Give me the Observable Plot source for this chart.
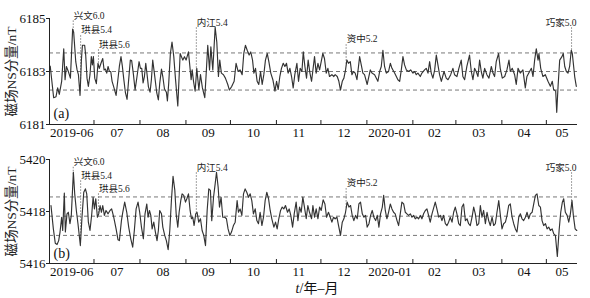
<!DOCTYPE html>
<html><head><meta charset="utf-8">
<script src="https://cdn.jsdelivr.net/npm/d3@7"></script>
<script src="https://cdn.jsdelivr.net/npm/@observablehq/plot@0.6"></script>
<style>
body{margin:0;background:#fff;width:590px;height:298px;overflow:hidden;position:relative;font-family:"Liberation Serif","Noto Sans CJK SC",serif}
#chart svg{display:block}
#xl{position:absolute;left:0;width:634px;top:281px;text-align:center;font-size:14px;color:#111;line-height:16px}
</style></head><body>
<div id="chart"></div>
<div id="xl"><i>t</i>/年–月</div>
<script>
// ---------- data ----------
// day offsets from 2019-06-01 and NS component values (nT)
const dayA = [0.5,2.8,4.4,5.5,6.6,8.2,9.6,10.5,11.4,12.7,14.1,15.6,16.3,17.7,18.6,19.5,20.6,21.5,22.2,23.7,24.4,25.3,26.2,27.3,28.2,28.9,29.6,30.5,31.6,32.7,33.6,34.7,35.9,36.8,37.7,38.6,39.5,40.4,41.3,42.2,43.3,44.9,46.0,47.1,48.2,49.1,50.0,51.2,52.3,53.2,54.5,55.4,56.6,57.7,59.0,60.4,61.3,62.2,63.1,64.0,64.9,65.8,66.7,67.8,68.7,69.6,70.7,72.3,73.4,74.3,75.5,76.4,77.5,78.8,79.5,80.4,81.5,82.6,83.8,84.9,
86.5,88.1,89.9,91.0,92.1,93.7,95.5,96.2,97.1,98.2,99.3,100.7,101.8,103.1,104.7,105.6,106.7,107.9,108.8,110.1,111.7,112.8,113.9,114.8,115.9,117.3,118.6,120.2,121.3,122.9,124.5,125.8,127.2,128.5,129.9,131.0,132.1,133.3,134.6,135.7,136.9,137.8,138.9,140.0,141.1,142.3,143.4,144.5,145.6,146.8,147.9,149.2,150.6,152.0,153.1,154.2,155.3,156.4,157.6,158.7,159.8,160.9,162.1,163.2,164.3,165.4,166.8,167.9,169.0,170.2,171.1,172.2,173.3,174.4,175.6,176.7,
178.7,179.8,181.0,182.1,184.3,185.4,186.6,187.7,188.8,190.4,191.7,192.6,194.0,195.1,196.2,197.4,198.5,199.6,200.5,201.6,202.8,203.9,205.0,206.1,207.3,209.1,210.2,211.3,212.4,214.2,215.1,216.3,217.4,219.2,221.4,222.6,223.7,224.8,225.9,227.1,228.6,229.8,230.9,232.7,234.9,236.1,237.2,238.3,239.4,240.6,242.1,243.5,245.1,246.2,247.3,248.4,250.0,251.1,252.9,254.0,255.2,256.3,257.4,258.5,259.7,260.8,261.9,263.0,264.2,266.0,267.5,268.7,270.5,
272.0,273.1,274.7,276.0,277.6,278.7,279.9,281.4,283.2,284.4,285.5,286.6,287.7,288.9,290.0,291.1,292.2,293.4,294.9,296.3,297.9,299.0,300.1,301.2,302.8,303.9,305.3,306.9,308.4,309.8,310.7,312.0,313.6,314.7,315.9,317.4,319.2,320.8,321.9,323.7,324.9,326.0,327.1,328.2,329.4,330.0,331.2,332.7,334.3,336.1,337.7,339.0,339.9,341.3,342.0,342.9,344.0,345.5,346.4,347.4,348.5,349.6,350.7,351.8,352.5,354.1,355.2];
const nsA = [6183.20,6182.01,6182.05,6182.38,6182.14,6182.63,6183.86,6182.69,6183.19,6183.00,6182.75,6184.60,6184.48,6183.37,6183.06,6182.88,6182.10,6183.43,6183.99,6183.99,6183.62,6182.75,6182.44,6182.88,6183.56,6183.25,6183.56,6182.75,6182.54,6183.31,6183.12,6183.31,6183.49,6183.06,6183.09,6182.94,6183.19,6183.00,6183.00,6182.63,6182.42,6182.10,6182.63,6183.19,6183.56,6183.21,6182.75,6182.20,6181.95,6182.57,6183.43,6183.41,6182.88,6182.30,6182.81,6183.37,6183.12,6183.12,6182.57,6182.81,6183.31,6182.88,6182.42,6182.22,6182.69,6183.43,6182.94,6182.20,6181.93,6182.54,6183.09,6182.81,6182.35,6182.22,6181.89,6182.57,6183.68,6184.11,6183.56,6182.75,
6181.70,6183.68,6183.43,6183.56,6183.43,6183.74,6182.69,6183.06,6182.63,6182.26,6183.12,6182.32,6182.88,6182.38,6182.01,6182.88,6183.99,6183.06,6183.93,6183.06,6184.67,6184.11,6182.81,6183.43,6182.94,6182.88,6182.75,6182.51,6182.30,6182.44,6182.63,6183.31,6183.00,6183.06,6182.88,6183.68,6183.99,6183.80,6183.62,6183.74,6183.43,6182.94,6183.12,6182.63,6182.51,6183.00,6182.51,6182.88,6183.43,6183.68,6183.37,6182.94,6182.69,6182.26,6182.63,6182.32,6182.81,6183.12,6183.31,6183.19,6183.31,6182.94,6183.12,6182.81,6182.38,6182.88,6183.31,6182.63,6183.12,6183.00,6183.74,6183.19,6182.75,6183.43,6182.94,6182.63,
6183.56,6182.94,6183.31,6183.06,6183.68,6183.49,6182.94,6183.12,6182.81,6182.88,6182.81,6182.88,6182.81,6182.63,6182.30,6182.63,6182.75,6183.06,6183.43,6183.31,6183.37,6182.88,6183.00,6182.94,6182.69,6183.56,6183.25,6182.94,6182.88,6182.51,6182.75,6183.06,6182.94,6182.88,6182.63,6183.00,6183.19,6183.80,6183.19,6182.94,6183.00,6183.31,6183.12,6182.94,6182.69,6182.63,6183.06,6183.56,6183.25,6183.06,6183.00,6183.06,6182.94,6183.00,6182.88,6182.94,6182.81,6182.94,6183.06,6183.12,6182.94,6183.37,6182.94,6182.75,6183.06,6183.62,6183.25,6182.88,6182.63,6183.00,6182.75,6182.69,6182.88,
6183.12,6182.88,6182.81,6183.12,6183.43,6182.81,6182.69,6183.19,6183.62,6183.00,6182.69,6183.12,6183.00,6182.81,6183.43,6183.00,6182.75,6183.12,6182.88,6182.75,6183.19,6182.94,6182.81,6183.37,6183.68,6183.12,6182.75,6182.81,6183.06,6183.43,6183.00,6183.12,6182.88,6182.51,6183.12,6182.94,6183.06,6182.38,6182.81,6183.00,6183.12,6182.81,6183.43,6183.86,6183.43,6183.68,6183.12,6182.81,6182.88,6182.63,6182.44,6182.63,6182.32,6182.26,6181.46,6182.44,6183.43,6183.56,6183.68,6183.19,6183.00,6182.94,6183.19,6183.80,6183.68,6182.81,6182.44];

const dayB = [1.0,2.6,3.9,5.1,6.2,7.1,8.2,8.9,10.0,10.7,11.8,12.7,13.8,14.7,16.1,17.0,18.1,19.2,20.8,21.9,23.1,24.2,25.1,26.2,27.3,28.5,29.4,30.3,31.2,32.3,33.2,34.1,35.0,35.9,37.0,38.1,39.5,40.8,41.9,43.3,44.9,46.2,47.1,48.5,49.4,50.7,52.1,53.4,54.8,56.1,57.2,58.4,59.7,60.8,62.0,63.3,64.4,65.6,66.5,67.4,68.3,69.2,70.3,71.4,72.5,73.4,74.3,75.5,76.4,77.7,78.8,80.0,81.1,82.2,83.3,84.5,85.4,86.5,87.4,88.5,89.4,90.5,91.7,92.6,93.7,94.8,95.7,96.6,97.5,98.6,99.5,100.6,101.8,102.9,104.0,105.2,106.3,107.4,108.5,109.4,110.6,111.7,112.6,113.7,114.6,115.7,116.8,118.2,119.3,120.4,121.6,122.7,124.0,125.2,126.5,127.4,128.5,129.7,130.8,131.9,133.0,134.2,135.3,136.4,137.5,138.7,139.8,140.9,142.0,143.2,144.3,145.4,146.5,147.7,148.8,149.9,151.3,152.4,153.5,154.6,155.8,156.9,158.0,159.1,160.5,161.6,162.7,163.9,165.0,166.3,167.5,168.6,169.7,170.8,171.9,173.1,174.2,175.3,176.7,
177.6,178.7,179.8,181.0,182.1,183.2,184.5,185.7,186.8,188.1,189.3,190.4,191.5,192.6,193.8,194.9,196.2,197.4,198.5,199.6,200.7,201.9,203.0,204.1,205.2,206.4,207.5,208.6,209.7,210.9,212.0,213.1,214.2,215.4,216.5,217.6,218.7,219.9,221.0,222.1,223.2,224.4,225.3,226.4,227.5,228.6,229.8,230.9,232.0,233.1,234.3,235.4,236.5,237.6,238.8,239.9,241.0,242.1,243.3,244.4,245.5,246.6,247.8,248.9,250.0,251.1,252.2,253.4,254.5,255.6,256.7,257.9,260.1,261.2,262.4,263.5,264.6,265.7,266.9,268.0,269.1,270.2,271.4,272.5,273.6,274.7,275.9,277.0,278.1,279.2,280.4,281.5,282.6,283.7,284.9,286.0,287.1,288.2,289.4,290.5,291.6,292.7,293.9,295.0,296.1,297.2,298.4,299.5,300.6,301.7,302.9,304.0,305.1,306.2,307.4,308.5,309.6,310.7,311.9,313.0,314.1,315.2,316.4,317.5,318.6,319.7,320.9,322.0,323.1,324.2,325.4,326.5,327.6,328.7,329.9,331.0,332.1,333.2,334.4,335.5,336.6,337.7,338.9,340.0,341.1,342.4,343.6,344.7,345.8,346.7,347.8,349.0,350.1,351.2,352.3,353.2,354.4,355.5];
const nsB = [5418.23,5417.33,5416.78,5416.73,5416.88,5417.21,5417.78,5417.27,5418.71,5417.21,5417.91,5417.97,5417.53,5417.85,5419.51,5418.68,5418.04,5417.53,5416.69,5417.78,5418.74,5418.87,5418.68,5417.59,5417.27,5417.91,5418.55,5418.10,5418.49,5417.78,5417.91,5418.23,5417.97,5418.23,5417.85,5418.04,5417.91,5418.04,5418.10,5417.78,5417.33,5416.91,5416.88,5417.65,5417.97,5418.36,5417.97,5417.40,5416.95,5416.63,5417.27,5418.10,5418.36,5417.97,5417.40,5416.95,5417.91,5418.29,5417.78,5418.04,5417.85,5417.33,5417.59,5417.21,5416.88,5417.27,5418.04,5417.91,5417.40,5417.08,5416.88,5416.53,5417.27,5418.42,5419.35,5418.81,5417.91,5417.40,5417.97,5418.42,5418.68,5418.62,5418.36,5418.49,5418.68,5418.04,5417.72,5417.78,5417.46,5417.91,5417.97,5417.59,5417.72,5417.27,5417.08,5416.69,5418.04,5418.87,5418.81,5417.65,5418.55,5419.06,5419.51,5418.94,5418.17,5418.55,5417.78,5417.78,5417.72,5417.33,5417.08,5417.21,5417.46,5417.59,5418.42,5417.97,5418.10,5417.85,5418.68,5418.87,5418.74,5418.55,5418.68,5418.42,5417.91,5418.10,5417.65,5417.53,5417.97,5417.46,5417.78,5418.42,5418.74,5418.49,5418.04,5417.72,5417.40,5417.59,5417.33,5417.72,5418.04,5418.17,5418.10,5418.23,5417.97,5418.10,5417.85,5417.40,5417.91,5418.36,5417.65,5418.17,5417.97,5418.55,5418.17,5417.72,5418.23,5417.97,5417.72,
5418.23,5417.78,5418.10,5417.72,5418.17,5418.04,5418.45,5418.29,5417.78,5417.97,5417.78,5417.59,5417.78,5417.72,5417.78,5417.46,5417.08,5417.59,5417.72,5417.97,5418.36,5418.17,5418.23,5417.85,5417.65,5417.85,5417.72,5418.29,5418.36,5417.91,5417.78,5417.85,5417.40,5417.53,5417.85,5418.04,5417.78,5417.65,5417.85,5417.40,5417.91,5418.17,5418.62,5418.04,5417.72,5417.97,5418.29,5418.10,5417.97,5417.91,5417.65,5417.46,5417.91,5418.36,5418.29,5417.97,5417.91,5417.85,5417.91,5417.78,5417.85,5417.72,5417.78,5417.72,5417.85,5417.72,5417.91,5418.04,5418.10,5417.85,5417.59,5417.91,5418.36,5418.10,5417.78,5417.85,5417.65,5417.85,5417.53,5417.46,5417.59,5417.78,5417.59,5417.97,5418.17,5417.91,5417.53,5417.46,5418.17,5418.29,5417.65,5417.72,5417.53,5417.46,5417.78,5418.17,5417.91,5417.46,5417.53,5418.23,5417.78,5418.04,5417.53,5417.97,5417.65,5417.46,5417.78,5417.46,5417.53,5417.97,5418.42,5417.85,5417.33,5417.53,5417.59,5417.85,5418.23,5418.29,5417.78,5417.53,5417.33,5417.21,5417.78,5417.91,5417.72,5417.65,5417.78,5417.97,5417.72,5417.91,5417.97,5418.29,5418.62,5418.68,5418.23,5418.17,5417.65,5417.46,5417.53,5417.33,5417.40,5417.27,5417.33,5417.14,5417.08,5416.27,5417.27,5417.97,5418.36,5418.49,5417.97,5417.85,5417.59,5417.91,5418.42,5417.85,5417.33,5417.27];

// dashed reference levels (lower, mean, upper)
const dashA = [6182.3, 6183.0, 6183.7];
const dashB = [5417.08, 5417.82, 5418.56];
const yTicksA = [6181, 6183, 6185];
const yTicksB = [5416, 5418, 5420];

// earthquakes: name and day offset from 2019-06-01
const quakeNames = ["兴文6.0","珙县5.4","珙县5.6","内江5.4","资中5.2","巧家5.0"];
const quakeDays = [16, 21, 33, 99, 200, 352];
const quakeLabelA = [6185.11, 6184.55, 6184.02, 6184.85, 6184.21, 6184.85];
const quakeLabelB = [5419.90, 5419.38, 5418.88, 5419.69, 5419.08, 5419.69];

const monthLabels = ["2019-06","07","08","09","10","11","12","2020-01","02","03","04","05"];

// ---------- helpers ----------
const start = new Date(Date.UTC(2019, 5, 1));
const toDate = d => new Date(start.getTime() + d * 864e5);
const xDomain = [toDate(0), toDate(356)];
const monthStarts = d3.utcMonth.range(new Date(Date.UTC(2019, 6, 1)), new Date(Date.UTC(2020, 4, 2)));
const monthMids = d3.utcMonth.range(start, new Date(Date.UTC(2020, 5, 1))).map((m, i) => {
  const e = d3.utcMonth.offset(m, 1);
  const a = +m, b = Math.min(+e, +xDomain[1]);
  return {date: new Date((a + b) / 2), label: monthLabels[i]};
});
function interp(ds, vs, d) {
  for (let i = 1; i < ds.length; i++) {
    if (ds[i] >= d) { const t = (d - ds[i-1]) / (ds[i] - ds[i-1]); return vs[i-1] + t * (vs[i] - vs[i-1]); }
  }
  return vs[vs.length - 1];
}
const FONT = '"Liberation Serif","Noto Sans CJK SC",serif';

function panel({days, vals, yDomain, dash, yTicks, labelY, tag, h, mt, mb, tagDy}) {
  const data = days.map((d, i) => ({date: toDate(d), v: vals[i]}));
  const ev = quakeNames.map((n, i) => ({name: n, date: toDate(quakeDays[i]), ly: labelY[i], bottom: interp(days, vals, quakeDays[i])}));
  const evStart = ev.filter((d, i) => i < ev.length - 1);
  const evEnd = ev.filter((d, i) => i === ev.length - 1);
  return Plot.plot({
    width: 590, height: h, marginLeft: 49, marginRight: 13, marginTop: mt, marginBottom: mb,
    style: {fontFamily: FONT, fontSize: "13px", color: "#111", background: "#fff", overflow: "visible"},
    x: {type: "utc", domain: xDomain, axis: null},
    y: {domain: yDomain, axis: null},
    marks: [
      Plot.ruleY(dash, {stroke: "#555", strokeDasharray: "4,3", strokeWidth: 0.8}),
      Plot.ruleX(ev, {x: "date", y1: d => d.ly - 0.2, y2: "bottom", stroke: "#777", strokeDasharray: "1.5,1.5", strokeWidth: 0.9}),
      Plot.line(data, {x: "date", y: "v", stroke: "#333", strokeWidth: 1.15}),
      Plot.ruleY([yDomain[0]], {stroke: "#222", strokeWidth: 1}),
      Plot.ruleX([xDomain[0]], {stroke: "#222", strokeWidth: 1}),
      Plot.axisY({ticks: yTicks, tickSize: 3, tickPadding: 1, fontSize: 13, label: null, tickFormat: d => String(d), stroke: "#222"}),
      Plot.axisX({ticks: monthStarts, tickSize: -4, tickFormat: () => "", label: null, stroke: "#222"}),
      Plot.text(monthMids, {x: "date", text: "label", frameAnchor: "bottom", lineAnchor: "middle", dy: 8, fontSize: 13, fill: "#111"}),
      Plot.text(evStart, {x: "date", y: "ly", text: "name", textAnchor: "start", dx: 0.5, fontSize: 9.5, fill: "#222"}),
      Plot.text(evEnd, {x: "date", y: "ly", text: "name", textAnchor: "end", dx: 5, fontSize: 9.5, fill: "#222"}),
      Plot.text([tag], {frameAnchor: "bottom-left", textAnchor: "start", lineAnchor: "middle", dx: 4, dy: tagDy, fontSize: 14, fill: "#111"}),
      Plot.text(["磁场NS分量/nT"], {frameAnchor: "left", rotate: -90, lineAnchor: "middle", textAnchor: "middle", dx: -38, fontSize: 13.5, fill: "#222"})
    ]
  });
}

const chart = document.getElementById("chart");
chart.append(panel({days: dayA, vals: nsA, yDomain: [6181, 6185], dash: dashA, yTicks: yTicksA, labelY: quakeLabelA, tag: "(a)", h: 143, mt: 18, mb: 19, tagDy: -11}));
chart.append(panel({days: dayB, vals: nsB, yDomain: [5416, 5420], dash: dashB, yTicks: yTicksB, labelY: quakeLabelB, tag: "(b)", h: 139, mt: 16, mb: 19, tagDy: -10}));
</script>
</body></html>
